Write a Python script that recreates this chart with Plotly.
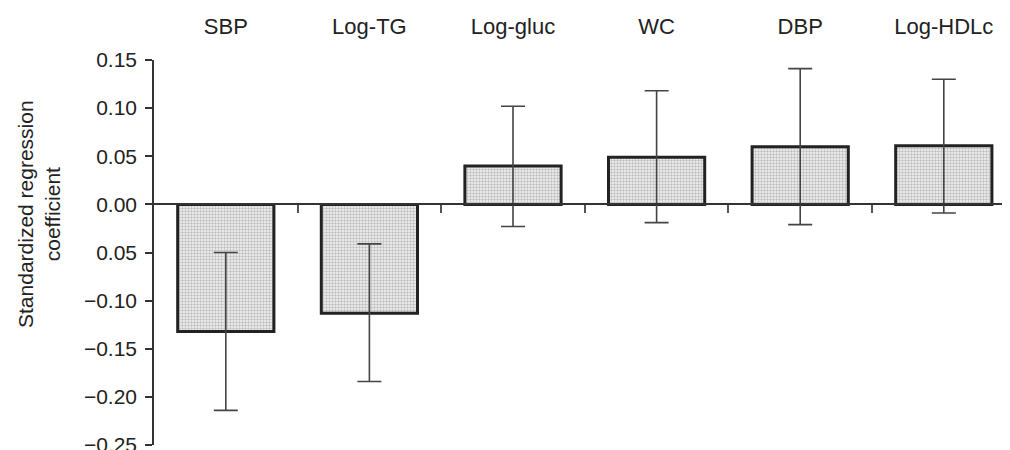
import plotly.graph_objects as go

categories = ["SBP", "Log-TG", "Log-gluc", "WC", "DBP", "Log-HDLc"]
coef = [-0.132, -0.113, 0.040, 0.049, 0.060, 0.061]
ci_upper = [-0.050, -0.041, 0.102, 0.118, 0.141, 0.130]
ci_lower = [-0.214, -0.184, -0.023, -0.019, -0.021, -0.009]

ytick_vals = [0.15, 0.10, 0.05, 0.00, -0.05, -0.10, -0.15, -0.20, -0.25]
ytick_text = ["0.15", "0.10", "0.05", "0.00", "0.05", "\u22120.10", "\u22120.15", "\u22120.20", "\u22120.25"]
y_title = "Standardized regression<br>coefficient"

xpos = list(range(len(categories)))
err_plus = [u - c for u, c in zip(ci_upper, coef)]
err_minus = [c - l for c, l in zip(coef, ci_lower)]

FONT = "Liberation Sans, Arial, sans-serif"
Y_MIN, Y_MAX = -0.25, 0.15

fig = go.Figure()
fig.add_trace(go.Bar(
    x=xpos, y=coef, width=0.67,
    marker=dict(
        color="#ffffff",
        line=dict(color="#222222", width=3),
        pattern=dict(shape="+", fgcolor="#8a8a8a", bgcolor="#e8e8e8", size=3, solidity=0.35),
    ),
    error_y=dict(type="data", symmetric=False, array=err_plus, arrayminus=err_minus,
                 color="#444444", thickness=1.6, width=12),
    showlegend=False,
))
# invisible trace to activate top axis
fig.add_trace(go.Scatter(x=xpos, y=[0]*len(xpos), xaxis="x2", mode="markers",
                         marker=dict(opacity=0), showlegend=False, hoverinfo="skip"))

fig.update_layout(
    width=1002, height=442,
    margin=dict(l=146, r=0, t=52, b=5),
    paper_bgcolor="white", plot_bgcolor="white",
    font=dict(family=FONT, size=21, color="#222222"),
    xaxis=dict(
        range=[-0.5, 5.461], tickmode="array",
        tickvals=[i + 0.5 for i in range(len(categories) - 1)],
        ticktext=[""] * (len(categories) - 1),
        ticks="outside", ticklen=8, tickwidth=1.5, tickcolor="#555555",
        showline=True, linecolor="#333333", linewidth=1.5,
        showgrid=False, zeroline=False, automargin=False,
        anchor="free", position=(0 - Y_MIN) / (Y_MAX - Y_MIN),
    ),
    xaxis2=dict(
        range=[-0.5, 5.461], overlaying="x", side="top", matches="x",
        tickmode="array", tickvals=xpos, ticktext=categories,
        ticks="outside", ticklen=16, tickcolor="rgba(0,0,0,0)",
        showline=False, showgrid=False, zeroline=False, automargin=False,
        tickfont=dict(size=22, color="#222222"),
    ),
    yaxis=dict(
        range=[Y_MIN, Y_MAX], tickmode="array",
        tickvals=ytick_vals, ticktext=ytick_text,
        ticks="outside", ticklen=7, tickwidth=1.5, tickcolor="#333333",
        showline=True, linecolor="#333333", linewidth=1.5,
        showgrid=False, zeroline=False, ticklabelstandoff=4, automargin=False,
        ticklabeloverflow="allow",
        tickfont=dict(size=21, color="#222222"),
    ),
    annotations=[dict(
        text=y_title, textangle=-90, xref="paper", yref="paper",
        x=(39 - 154) / 856, y=(445 - 214) / 385, xanchor="center", yanchor="middle",
        showarrow=False, font=dict(size=21, color="#222222"),
    )],
)

fig.write_html("out.html")
